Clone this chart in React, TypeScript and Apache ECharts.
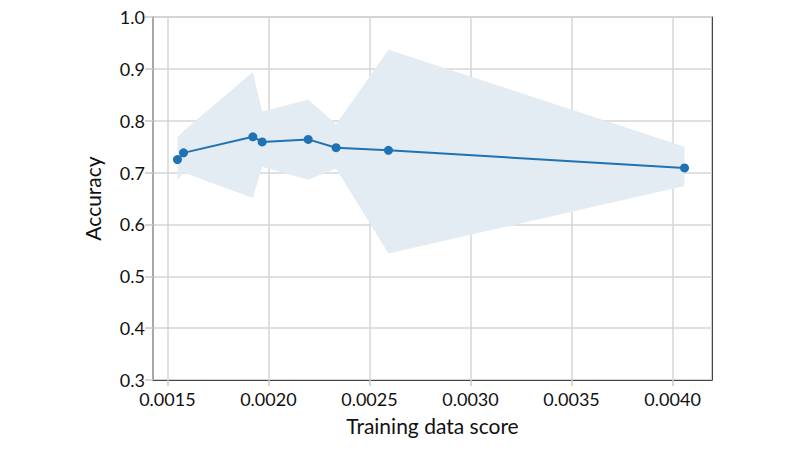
import React, { useEffect, useRef } from "react";
import * as echarts from "echarts";

const xScores = [0.00155, 0.00158, 0.001923, 0.001969, 0.002197, 0.002335, 0.002594, 0.004059];
const accuracy = [0.725, 0.738, 0.769, 0.759, 0.764, 0.748, 0.743, 0.709];
const bandUpper = [0.768, 0.78, 0.894, 0.818, 0.841, 0.793, 0.937, 0.75];
const bandLower = [0.685, 0.70, 0.651, 0.711, 0.686, 0.708, 0.544, 0.674];
const xTicks = [0.0015, 0.002, 0.0025, 0.003, 0.0035, 0.004];

const FONT = "Lato, 'Open Sans', sans-serif";
const GRID_COLOR = "#d6d6d6";

export default function App() {
  const ref = useRef<HTMLDivElement>(null);
  useEffect(() => {
    if (!ref.current) return;
    const chart = echarts.init(ref.current, null, { renderer: "svg" });
    const bandData = xScores.map((x, i) => [x, bandLower[i], bandUpper[i]]);
    chart.setOption({
      animation: false,
      backgroundColor: "#ffffff",
      grid: {
        left: 153,
        right: 88,
        top: 17,
        bottom: 70,
        show: true,
        borderColor: "#9a9a9a",
        borderWidth: 1,
      },
      xAxis: {
        type: "value",
        min: 0.001429,
        max: 0.004195,
        name: "Training data score",
        nameLocation: "middle",
        nameGap: 35,
        nameTextStyle: { fontSize: 21, color: "#111", fontFamily: FONT },
        axisLine: { show: true, lineStyle: { color: "#444", width: 1 } },
        axisTick: {
          show: true,
          customValues: xTicks,
          length: 6,
          lineStyle: { color: "#c8c8c8", width: 1.5 },
        },
        axisLabel: {
          customValues: xTicks,
          formatter: (v: number) => v.toFixed(4),
          fontSize: 18,
          color: "#111",
          fontFamily: FONT,
          margin: 10,
        },
        splitLine: { show: true, lineStyle: { color: GRID_COLOR, width: 1.5 } },
      },
      yAxis: [
        {
          type: "value",
          min: 0.3,
          max: 1.0,
          interval: 0.1,
          name: "Accuracy",
          nameLocation: "middle",
          nameGap: 50,
          nameTextStyle: { fontSize: 21, color: "#111", fontFamily: FONT },
          axisLine: { show: true, lineStyle: { color: "#9a9a9a", width: 1.5 } },
          axisTick: { show: true, length: 8, lineStyle: { color: "#c8c8c8", width: 1.5 } },
          axisLabel: {
            formatter: (v: number) => v.toFixed(1),
            fontSize: 18,
            color: "#111",
            fontFamily: FONT,
            margin: 8,
          },
          splitLine: { show: true, lineStyle: { color: GRID_COLOR, width: 1.5 } },
        },
        {
          type: "value",
          position: "right",
          min: 0.3,
          max: 1.0,
          interval: 0.1,
          axisLine: { show: true, lineStyle: { color: "#444", width: 1 } },
          axisTick: { show: false },
          axisLabel: { show: false },
          splitLine: { show: false },
        },
      ],
      series: [
        {
          type: "custom",
          data: bandData,
          silent: true,
          z: 1,
          renderItem: (params: any, api: any) => {
            if (params.dataIndex !== 0) return null;
            const upper = bandData.map((d) => api.coord([d[0], d[2]]));
            const lower = bandData.map((d) => api.coord([d[0], d[1]])).reverse();
            return {
              type: "polygon",
              shape: { points: upper.concat(lower) },
              style: { fill: "rgb(226,236,242)" },
            };
          },
          encode: { x: 0, y: [1, 2] },
        },
        {
          type: "line",
          data: xScores.map((x, i) => [x, accuracy[i]]),
          z: 3,
          symbol: "circle",
          symbolSize: 9,
          lineStyle: { color: "#1f72b4", width: 2 },
          itemStyle: { color: "#1f72b4" },
        },
      ],
    });
    return () => chart.dispose();
  }, []);
  return <div ref={ref} style={{ width: 800, height: 450, position: "absolute", left: 0, top: 0 }} />;
}
